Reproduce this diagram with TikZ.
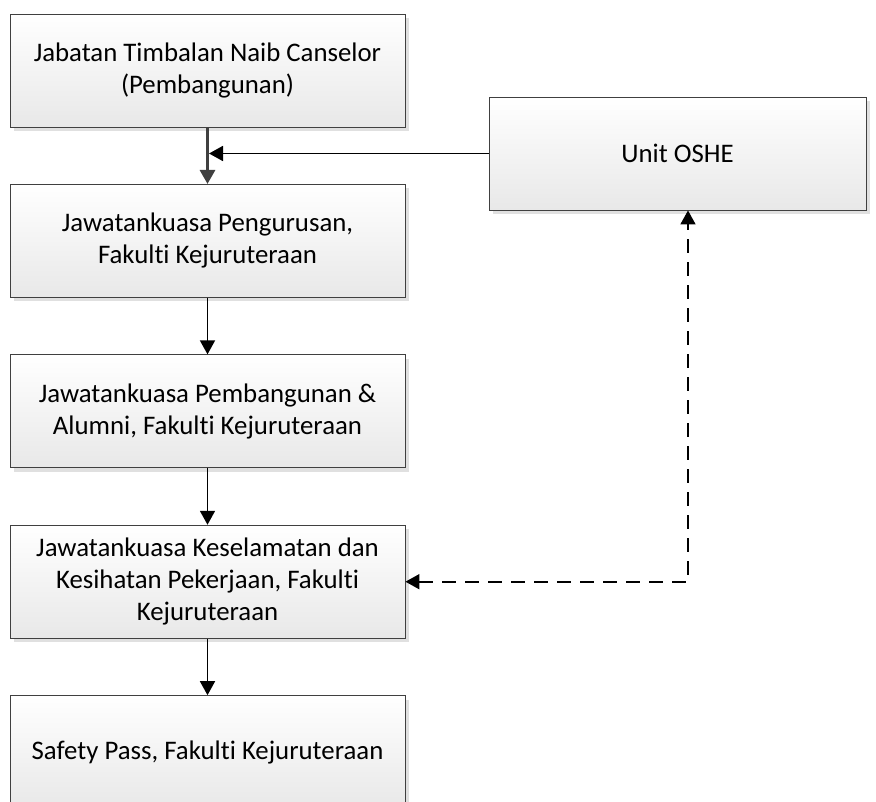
\documentclass[tikz,border=0pt]{standalone}
\usepackage{fontspec}
\setmainfont{Carlito}[Ligatures=NoCommon]
\usetikzlibrary{arrows.meta,positioning,shadows}
\tikzset{every picture/.style={
  >={Triangle[length=14pt,width=15pt]}   % filled triangle tips
  }
}
\definecolor{boxline}{HTML}{404040}
\tikzset{
  unitbox/.style={draw=boxline, line width=0.9pt,
    top color=white, bottom color=black!9,
    minimum width=395pt, minimum height=113pt, inner sep=0pt,
    align=center, font=\fontsize{26.8}{32}\selectfont,
    drop shadow={shadow xshift=4pt, shadow yshift=-4pt, fill=black!12, opacity=1}},
  flow/.style={->, line width=1.8pt},
  dashedlink/.style={<->, line width=1.8pt, dash pattern=on 14pt off 9pt},
}

\begin{document}
\begin{tikzpicture}
  \clip (0,0) rectangle (876pt,-801pt);

  % main chain
  \node[unitbox] (tnc) at (207.5pt,-70.5pt) {Jabatan Timbalan Naib Canselor\\(Pembangunan)};
  \node[unitbox, below=56.5pt of tnc] (jpfk) {Jawatankuasa Pengurusan,\\Fakulti Kejuruteraan};
  \node[unitbox, below=56.5pt of jpfk] (jpafk) {Jawatankuasa Pembangunan \&\\Alumni, Fakulti Kejuruteraan};
  \node[unitbox, below=56.5pt of jpafk] (jkkp) {Jawatankuasa Keselamatan dan\\Kesihatan Pekerjaan, Fakulti\\Kejuruteraan};
  \node[unitbox, below=56.5pt of jkkp] (spass) {Safety Pass, Fakulti Kejuruteraan};

  % side unit
  \node[unitbox, minimum width=377pt] (oshe) at (677.5pt,-153.5pt) {Unit OSHE};
  \coordinate (oshefoot) at ([xshift=10.5pt]oshe.south);

  \draw[->, line width=3pt, draw=boxline, >={Triangle[length=14pt,width=15pt,fill=boxline]}] (tnc) -- (jpfk);
  \draw[flow] (oshe.west) -- ([xshift=1.5pt]oshe.west -| tnc.south);
  \draw[flow] (jpfk) -- (jpafk);
  \draw[flow] (jpafk) -- (jkkp);
  \draw[flow] (jkkp) -- (spass);
  \draw[dashedlink] (jkkp.east) -| (oshefoot);
\end{tikzpicture}
\end{document}
